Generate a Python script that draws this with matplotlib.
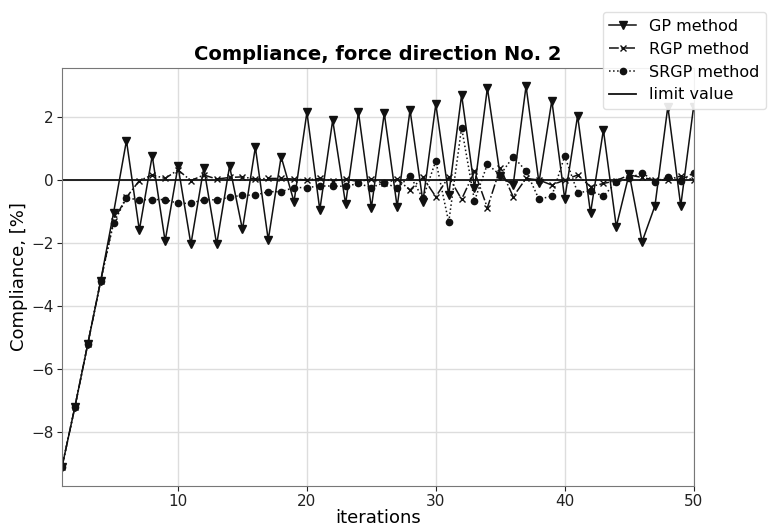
import numpy as np
import matplotlib
matplotlib.use("Agg")
import matplotlib.pyplot as plt

# iterations 1..50
iterations = list(range(1, 51))

gp = [-9.1, -7.2, -5.2, -3.2, -1.04, 1.25, -1.59, 0.77, -1.94, 0.44,
      -2.04, 0.39, -2.04, 0.44, -1.57, 1.04, -1.9, 0.74, -0.69, 2.15,
      -0.95, 1.9, -0.76, 2.15, -0.88, 2.12, -0.85, 2.22, -0.69, 2.41,
      -0.48, 2.7, -0.26, 2.92, 0.12, -0.16, 2.98, -0.08, 2.52, -0.6,
      2.04, -1.05, 1.59, -1.48, 0.2, -1.96, -0.82, 2.33, -0.82, 2.33]

rgp = [-9.1, -7.2, -5.2, -3.2, -1.3, -0.55, -0.02, 0.16, 0.05, 0.32,
       -0.02, 0.16, 0.03, 0.08, 0.1, 0.03, 0.05, 0.05, 0.03, 0.0,
       0.05, -0.03, 0.03, -0.05, 0.03, -0.11, 0.03, -0.32, 0.08, -0.53,
       0.1, -0.61, 0.27, -0.88, 0.38, -0.53, 0.05, 0.0, -0.16, 0.0,
       0.16, -0.21, -0.11, -0.02, 0.16, 0.08, 0.0, 0.0, 0.13, 0.0]

srgp = [-9.1, -7.2, -5.2, -3.2, -1.37, -0.57, -0.63, -0.62, -0.62, -0.74,
        -0.74, -0.62, -0.63, -0.55, -0.48, -0.48, -0.37, -0.37, -0.24, -0.24,
        -0.19, -0.19, -0.2, -0.11, -0.24, -0.08, -0.26, 0.13, -0.58, 0.61,
        -1.34, 1.66, -0.66, 0.5, 0.16, 0.74, 0.29, -0.61, -0.51, 0.76,
        -0.4, -0.35, -0.51, -0.07, 0.05, 0.23, -0.05, 0.09, -0.02, 0.23]

limit = [0.0] * len(iterations)

fig = plt.figure(figsize=(7.75, 5.28), dpi=100)
ax = fig.add_axes([0.08, 0.08, 0.815, 0.791])

ax.plot(iterations, gp, '-', c='#111111', lw=1.1, marker='v', ms=5.5, label='GP method')
ax.plot(iterations, rgp, '-.', c='#111111', lw=1.1, marker='x', ms=4.5, label='RGP method')
ax.plot(iterations, srgp, ':', c='#111111', lw=1.1, marker='o', ms=4.5, label='SRGP method')
ax.plot(iterations, limit, '-', c='#111111', lw=1.3, label='limit value')

ax.set_xlim(1, 50)
ax.set_ylim(-9.7, 3.55)
ax.set_xticks([10, 20, 30, 40, 50])
ax.set_yticks([-8, -6, -4, -2, 0, 2])
ax.grid(color='#dddddd', lw=1)
ax.set_axisbelow(True)
for s in ax.spines.values():
    s.set_color('#777777')
ax.tick_params(labelsize=11, colors='#222222', length=3.5, pad=2.5)

ax.set_title('Compliance, force direction No. 2', fontsize=14, fontweight='bold')
ax.set_xlabel('iterations', fontsize=13, labelpad=0)
ax.set_ylabel('Compliance, [%]', fontsize=13, labelpad=2)

fig.legend(loc='upper right', bbox_to_anchor=(0.988, 0.977), borderaxespad=0,
           fontsize=11.5, handlelength=1.7, framealpha=0.9, edgecolor='#dddddd')

fig.savefig('out.png', dpi=100)
